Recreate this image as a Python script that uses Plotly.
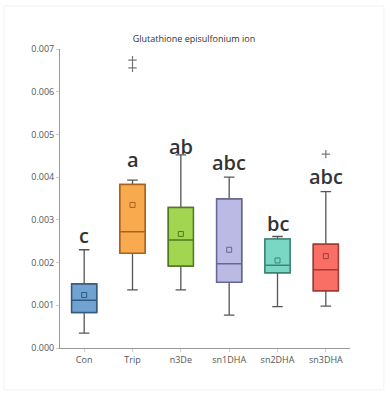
import plotly.graph_objects as go

# Group labels and summary statistics (concentration units)
groups = ["Con", "Trip", "n3De", "sn1DHA", "sn2DHA", "sn3DHA"]
lower_whisker = [0.00035, 0.00136, 0.00136, 0.00077, 0.00097, 0.00098]
q1 = [0.00083, 0.00222, 0.00192, 0.00154, 0.00176, 0.00134]
median = [0.00112, 0.00272, 0.00253, 0.00197, 0.00194, 0.00183]
q3 = [0.00150, 0.00383, 0.00329, 0.00349, 0.00255, 0.00243]
upper_whisker = [0.00230, 0.00393, 0.00452, 0.00400, 0.00261, 0.00366]
means = [0.00124, 0.00335, 0.00267, 0.00230, 0.00205, 0.00215]
outlier_groups = ["Trip", "Trip", "sn3DHA"]
outlier_values = [0.00674, 0.00656, 0.00454]
sig_letters = ["c", "a", "ab", "abc", "bc", "abc"]
letter_heights = [0.00228, 0.00406, 0.00436, 0.00397, 0.00256, 0.00366]

fills = ["#70a2d2", "#f9aa4e", "#a2d550", "#babae4", "#7ad7c3", "#f96f66"]
edges = ["#34597e", "#a8621c", "#4f7a22", "#666696", "#3a8676", "#a33b35"]

fig = go.Figure()

for i, g in enumerate(groups):
    # whiskers and caps
    fig.add_trace(go.Box(
        x=[g], q1=[q1[i]], median=[median[i]], q3=[q3[i]],
        lowerfence=[lower_whisker[i]], upperfence=[upper_whisker[i]],
        width=0.52, whiskerwidth=0.42, fillcolor=fills[i],
        line=dict(color="#555555", width=1.3), showlegend=False,
        hoverinfo="skip",
    ))
    # coloured box body with median
    fig.add_trace(go.Box(
        x=[g], q1=[q1[i]], median=[median[i]], q3=[q3[i]],
        lowerfence=[q1[i]], upperfence=[q3[i]],
        width=0.52, whiskerwidth=0, fillcolor=fills[i],
        line=dict(color=edges[i], width=1.5), showlegend=False,
    ))

# group means
fig.add_trace(go.Scatter(
    x=groups, y=means, mode="markers",
    marker=dict(symbol="square-open", size=5, color=edges, line=dict(width=1)),
    showlegend=False,
))

# outliers
fig.add_trace(go.Scatter(
    x=outlier_groups, y=outlier_values, mode="markers",
    marker=dict(symbol="cross-thin", size=6, line=dict(color="#777777", width=1.2)),
    showlegend=False,
))

# significance letters
for g, t, h in zip(groups, sig_letters, letter_heights):
    fig.add_annotation(x=g, y=h, text=t, showarrow=False, yanchor="bottom",
                       font=dict(family="Open Sans", size=20, color="#333333",
                                 weight=600))

# faint card outline
fig.add_shape(type="rect", xref="paper", yref="paper",
              x0=-0.193, x1=1.117, y0=-0.140, y1=1.144,
              line=dict(color="#f2f2f2", width=1), layer="below")

fig.update_layout(
    width=388, height=394,
    margin=dict(l=60, r=38, t=49, b=46),
    paper_bgcolor="white", plot_bgcolor="white",
    title=dict(text="Glutathione episulfonium ion", x=0.5, xanchor="center",
               y=1 - 39 / 394, yanchor="middle",
               font=dict(family="Open Sans", size=9, color="#333333")),
    font=dict(family="Open Sans", size=9, color="#555555"),
    xaxis=dict(type="category", range=[-0.5, 5.5], showline=True,
               linecolor="#9a9a9a", linewidth=1, ticks="outside", ticklen=3,
               tickcolor="#cccccc", showgrid=False, zeroline=False,
               tickfont=dict(size=9, color="#555555")),
    yaxis=dict(range=[0, 0.007], tickvals=[0, 0.001, 0.002, 0.003, 0.004, 0.005, 0.006, 0.007],
               ticktext=["0.000", "0.001", "0.002", "0.003", "0.004", "0.005", "0.006", "0.007"],
               showline=True, linecolor="#9a9a9a", linewidth=1, ticks="outside",
               ticklen=3, tickcolor="#cccccc", showgrid=False, zeroline=False,
               tickfont=dict(size=9, color="#555555")),
    boxmode="overlay",
)

fig.write_html("out.html")
